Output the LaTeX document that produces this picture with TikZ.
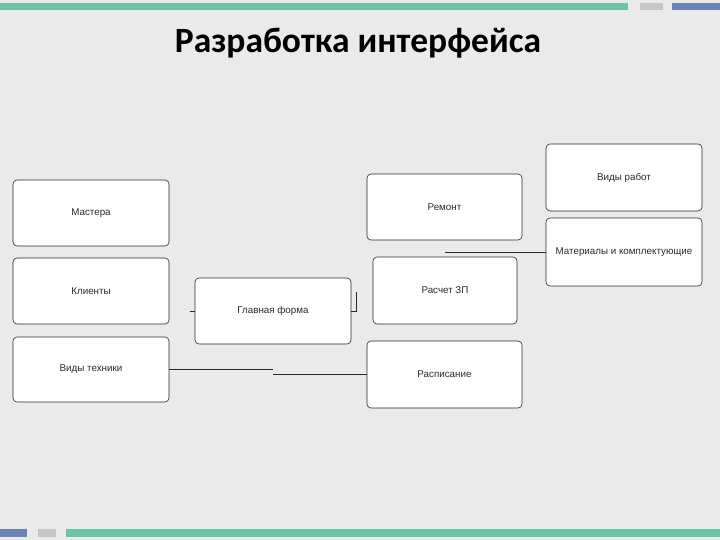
\documentclass[tikz,border=0pt]{standalone}
\usepackage{fontspec}
\setmainfont{Liberation Sans}
\newfontfamily\titlefont{Carlito}
\usetikzlibrary{positioning,calc}
\definecolor{bg}{HTML}{EAEAEA}
\definecolor{teal}{HTML}{6CC4A9}
\definecolor{steel}{HTML}{6A84B4}
\definecolor{pale}{HTML}{C6C6C6}
\definecolor{ink}{HTML}{2A2A2A}
\tikzset{
  formbox/.style={draw=ink,fill=white,rounded corners=4pt,line width=0.6pt,
    minimum width=156pt,minimum height=66pt,inner sep=0pt,
    font=\fontsize{9.8}{11}\selectfont,text=ink},
  link/.style={draw=ink,line width=0.6pt}
}
\begin{document}
\begin{tikzpicture}[x=1pt,y=-1pt]
    \useasboundingbox[fill=bg] (0,0) rectangle (720,540);
    % top and bottom bars
    \fill[teal] (0,3) rectangle (628,10);
    \fill[pale] (640,3) rectangle (663,10);
    \fill[steel] (672,3) rectangle (720,10);
    \fill[steel] (0,529) rectangle (27,537);
    \fill[pale] (38,529) rectangle (56,537);
    \fill[teal] (66,529) rectangle (720,537);
    \node (title) at (358,43) {\titlefont\bfseries\fontsize{35.5}{40}\selectfont Разработка интерфейса};
    % forms
    \node[formbox] (mastera) at (91,213) {Мастера};
    \node[formbox] (klienty) at (91,291) {Клиенты};
    \node[formbox,minimum height=65pt] (tehnika) at (91,369.5) {Виды техники};
    \node[formbox] (glavnaya) at (273,311) {Главная форма};
    \node[formbox,minimum width=155pt] (remont) at (444.5,207) {Ремонт};
    \node[formbox,minimum width=144pt,minimum height=67pt] (raschet) at (445,290.5) {Расчет ЗП};
    \node[formbox,minimum width=155pt,minimum height=67pt] (raspisanie) at (444.5,374.5) {Расписание};
    \node[formbox,minimum height=67pt] (raboty) at (624,177.5) {Виды работ};
    \node[formbox,minimum height=68pt] (materialy) at (624,252) {Материалы и комплектующие};
    % connectors
    \coordinate (kink) at (273,374.5);
    \draw[link] (tehnika.east) -- (kink |- tehnika.east);
    \draw[link] (kink) -- (raspisanie.west);
    \coordinate (stub) at (445,252);
    \draw[link] (materialy.west) -- (stub);
    \coordinate (gfleft) at (190,311);
    \draw[link] (gfleft) -- (glavnaya.west);
    \coordinate (gfright) at (356,292);
    \draw[link] (glavnaya.east) -- (glavnaya.east -| gfright) -- (gfright);
\end{tikzpicture}
\end{document}
